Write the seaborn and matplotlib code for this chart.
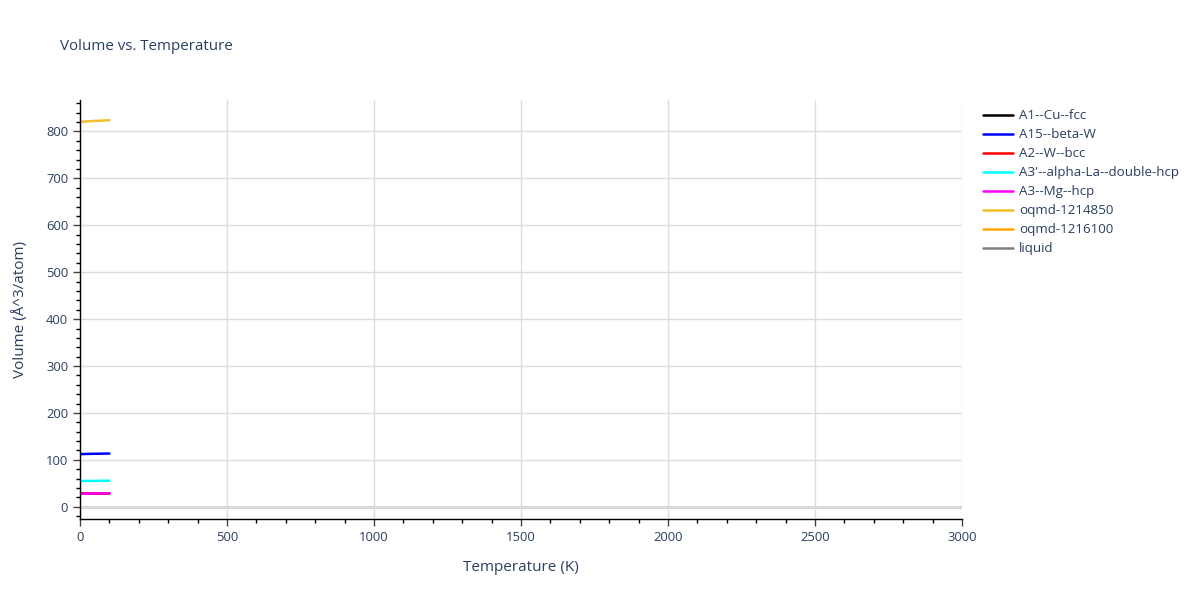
import matplotlib
matplotlib.use("Agg")
import matplotlib.pyplot as plt
import seaborn as sns
import pandas as pd
from matplotlib.ticker import MultipleLocator

# ---- data ----
series_names = ["A1--Cu--fcc", "A15--beta-W", "A2--W--bcc", "A3'--alpha-La--double-hcp",
                "A3--Mg--hcp", "oqmd-1214850", "oqmd-1216100", "liquid"]
series_colors = ["black", "blue", "red", "cyan", "magenta", "#f0c02a", "orange", "gray"]

temps = [0, 20, 40, 60, 80, 100]
vol_A1 = [28.0, 28.1, 28.3, 28.4, 28.6, 28.7]
vol_A15 = [112.3, 112.6, 112.9, 113.1, 113.3, 113.5]
vol_A2 = [28.0, 28.2, 28.4, 28.6, 28.7, 28.9]
vol_A3p = [55.0, 55.1, 55.2, 55.3, 55.5, 55.6]
vol_A3 = [27.6, 27.9, 28.2, 28.5, 28.7, 28.9]
vol_oqmd1 = [820.5, 821.2, 822.0, 822.7, 823.3, 824.0]
vol_oqmd2 = []
vol_liquid = []

series_values = [vol_A1, vol_A15, vol_A2, vol_A3p, vol_A3, vol_oqmd1, vol_oqmd2, vol_liquid]

rows = []
for name, vals in zip(series_names, series_values):
    for t, v in zip(temps, vals):
        rows.append({"Temperature": t, "Volume": v, "phase": name})
df = pd.DataFrame(rows)

sns.set_style("white")
plt.rcParams['font.family'] = ['Open Sans', 'DejaVu Sans']
text_color = "#2a3f5f"

fig = plt.figure(figsize=(12, 6), dpi=100)
ax = fig.add_axes([80/1200, 81/600, 882/1200, 419/600])

for name, color, vals in zip(series_names, series_colors, series_values):
    sub = df[df["phase"] == name]
    if len(sub):
        sns.lineplot(data=sub, x="Temperature", y="Volume", color=color, lw=1.8,
                     ax=ax, label=name, legend=False)
    else:
        ax.plot([], [], color=color, lw=1.8, label=name)

ax.set_xlim(0, 3000)
ax.set_ylim(-26, 867)
ax.xaxis.set_major_locator(MultipleLocator(500))
ax.xaxis.set_minor_locator(MultipleLocator(100))
ax.yaxis.set_major_locator(MultipleLocator(100))
ax.yaxis.set_minor_locator(MultipleLocator(20))

ax.grid(True, which="major", color="#dddddd", lw=1)
ax.axhline(0, color="#d0d0d0", lw=2, zorder=0.5)
for s in ["top", "right"]:
    ax.spines[s].set_visible(False)
for s in ["left", "bottom"]:
    ax.spines[s].set_color("black")
    ax.spines[s].set_linewidth(1)
ax.tick_params(which="major", direction="out", length=5, width=1, color="#444444",
               labelsize=9.4, labelcolor=text_color, left=True, bottom=True)
ax.tick_params(which="minor", direction="out", length=3, width=1, color="black",
               left=True, bottom=True)

ax.set_xlabel("Temperature (K)", fontsize=11, color=text_color, labelpad=12)
ax.set_ylabel("Volume (Å^3/atom)", fontsize=11, color=text_color, labelpad=13)
fig.text(60/1200, 1 - 46/600, "Volume vs. Temperature", fontsize=10.9, color=text_color,
         va="center", ha="left")

leg = ax.legend(loc="upper left", bbox_to_anchor=(978/1200, 1 - 104/600),
                bbox_transform=fig.transFigure, frameon=False, fontsize=9.6,
                handlelength=2.2, handletextpad=0.5, labelspacing=0.45, borderaxespad=0)
for t in leg.get_texts():
    t.set_color(text_color)

fig.savefig("out.png", dpi=100)
